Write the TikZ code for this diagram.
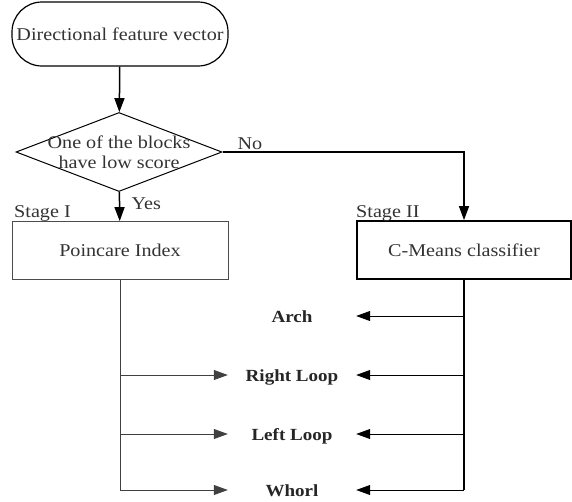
\documentclass[tikz,border=0pt]{standalone}
\usepackage{fontspec}
\setmainfont{Liberation Serif}[FakeStretch=1.12]
\usetikzlibrary{shapes.geometric,arrows.meta}

\begin{document}
\begin{tikzpicture}[x=1pt,y=-1pt,
  every node/.style={font=\fontsize{18}{20}\selectfont,text=black!80},
  flowbox/.style={draw,rectangle,minimum width=216pt,minimum height=58pt},
  classlbl/.style={minimum width=128pt,inner sep=0pt,text height=12pt,text depth=0pt,
    font=\fontsize{17}{20}\selectfont\bfseries,text=black!85},
  tip/.style={-{Triangle[length=14pt,width=10pt]}}]
\useasboundingbox (0,0) rectangle (572,501);

% Define the blocks of the chart
\node[draw,rounded corners=30pt,minimum width=216pt,minimum height=64pt,line width=1.2pt] (start) at (120,34) {Directional feature vector};
\node[draw,diamond,minimum width=206pt,minimum height=79pt,inner sep=0pt,line width=1pt] (dec) at (119,152) {};
\node[align=center] (dectext) at (dec) {One of the blocks\\have low score};
\node[flowbox,draw=black!70,line width=0.8pt] (poin) at (120,250.5) {Poincare Index};
\node[flowbox,minimum width=214pt,line width=1.8pt] (cmeans) at (464,250) {C-Means classifier};

% Side labels
\node[anchor=base west] (no) at (234,149) {No};
\node[anchor=base west] (yes) at (128,209) {Yes};
\node[anchor=base west,inner sep=0pt] (st1) at (14,217) {Stage I};
\node[anchor=base west,inner sep=0pt] (st2) at (356,217) {Stage II};

% The classes
\node[classlbl] (arch) at (292,316) {Arch};
\node[classlbl] (rl) at (292,375) {Right Loop};
\node[classlbl] (ll) at (292,434) {Left Loop};
\node[classlbl] (wh) at (292,490) {Whorl};

% Draw the connectors
\draw[tip,line width=1.5pt] (start) -- (dec);
\draw[tip,line width=1.5pt] (dec) -- (poin);
\draw[tip,line width=1.5pt] (dec.east) -| (cmeans);

\draw[line width=1pt,black!75] (poin.south) -- (poin.south |- wh.west);
\foreach \c in {rl,ll,wh}
    \draw[tip,line width=0.8pt,black!75] (poin.south |- \c.west) -- (\c.west);

\draw[line width=1.6pt] (cmeans.south) -- (cmeans.south |- wh.east);
\foreach \c in {arch,rl,ll,wh}
    \draw[tip,line width=0.8pt] (cmeans.south |- \c.east) -- (\c.east);
\end{tikzpicture}
\end{document}
